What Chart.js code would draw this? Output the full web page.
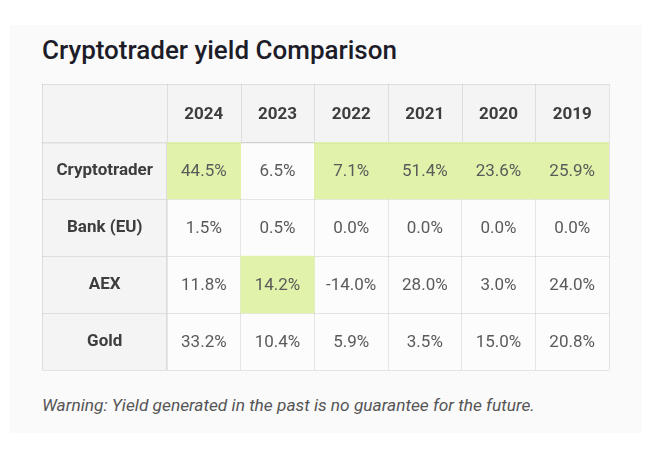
<!DOCTYPE html>
<html>
    <head>
        <title>Cryptotrader yield Comparison</title>
        <meta http-equiv="Content-Type" content="text/html; charset=UTF-8">
        <script src="https://cdn.jsdelivr.net/npm/chart.js"></script>
        <style>
            body { margin: 0; background: #ffffff; font-family: Roboto, sans-serif; }
            .card { position: absolute; left: 10px; top: 25px; width: 632px; height: 408px; background: #fafafa; }
            h1 { position: absolute; left: 42px; top: 35px; margin: 0; font-size: 26px; line-height: 30px;
                 font-weight: 500; color: #1d1d29; white-space: nowrap; }
            .tableau { position: absolute; left: 42px; top: 84px; width: 568px; height: 287px; }
            .warning { position: absolute; left: 42px; top: 395px; margin: 0; font-size: 17.3px; line-height: 20px;
                       font-style: italic; color: #555555; white-space: nowrap; }
        </style>
    </head>
    <body>

        <div class="card"></div>
        <h1>Cryptotrader yield Comparison</h1>
        <div class="tableau">
            <canvas id="tableRendement"></canvas>
        </div>
        <p class="warning">Warning: Yield generated in the past is no guarantee for the future.</p>

        <script>
            // colonnes et lignes du tableau
            const annees = ["2024", "2023", "2022", "2021", "2020", "2019"];
            const placements = ["Cryptotrader", "Bank (EU)", "AEX", "Gold"];

            // rendements en %, une liste par ligne
            const cryptotrader = [44.5, 6.5, 7.1, 51.4, 23.6, 25.9];
            const banqueEU = [1.5, 0.5, 0.0, 0.0, 0.0, 0.0];
            const aex = [11.8, 14.2, -14.0, 28.0, 3.0, 24.0];
            const or = [33.2, 10.4, 5.9, 3.5, 15.0, 20.8];

            const lignes = [cryptotrader, banqueEU, aex, or];

            const couleurLigne = 'rgba(0, 0, 0, 0.09)';
            const couleurEntete = '#f4f4f4';
            const couleurCellule = '#fcfcfc';
            const couleurMeilleur = '#e1f3aa';

            // cellule surlignée = meilleur rendement de chaque année
            const meilleurs = annees.map(function (annee, j) {
                let best = 0;
                lignes.forEach(function (ligne, i) {
                    if (ligne[j] > lignes[best][j]) best = i;
                });
                return {x: annee, y: [best, best + 1]};
            });

            const fondTableau = {
                id: 'fondTableau',
                beforeDraw: function (chart) {
                    const ctx = chart.ctx;
                    const area = chart.chartArea;
                    ctx.save();
                    ctx.fillStyle = couleurCellule;
                    ctx.fillRect(0, 0, area.right, area.bottom);
                    ctx.fillStyle = couleurEntete;
                    ctx.fillRect(0, 0, area.right, area.top);
                    ctx.fillRect(0, 0, area.left, area.bottom);
                    ctx.restore();
                },
                afterDraw: function (chart) {
                    const ctx = chart.ctx;
                    const area = chart.chartArea;
                    const xs = chart.scales.x;
                    const ys = chart.scales.y;
                    ctx.save();
                    ctx.strokeStyle = couleurLigne;
                    ctx.lineWidth = 1;
                    ctx.beginPath();
                    // lignes verticales dans l'entête
                    for (let j = 0; j <= annees.length; j++) {
                        const px = Math.round(xs.getPixelForValue(j - 0.5)) + 0.5;
                        ctx.moveTo(px, 0);
                        ctx.lineTo(px, area.top);
                    }
                    // lignes horizontales dans la première colonne
                    for (let i = 0; i <= placements.length; i++) {
                        const py = Math.round(ys.getPixelForValue(i - 0.5)) + 0.5;
                        ctx.moveTo(0, py);
                        ctx.lineTo(area.left, py);
                    }
                    ctx.moveTo(0, 0.5);
                    ctx.lineTo(area.right, 0.5);
                    ctx.moveTo(0.5, 0);
                    ctx.lineTo(0.5, area.bottom);
                    ctx.stroke();
                    // ombre sous l'entête
                    ctx.strokeStyle = 'rgba(0, 0, 0, 0.04)';
                    ctx.beginPath();
                    ctx.moveTo(0, Math.round(area.top) + 1.5);
                    ctx.lineTo(area.right, Math.round(area.top) + 1.5);
                    ctx.stroke();
                    ctx.restore();
                },
                afterDatasetsDraw: function (chart) {
                    const ctx = chart.ctx;
                    const xs = chart.scales.x;
                    const ys = chart.scales.y;
                    ctx.save();
                    ctx.font = '17px Roboto';
                    ctx.fillStyle = '#5a5a5a';
                    ctx.textAlign = 'center';
                    ctx.textBaseline = 'middle';
                    lignes.forEach(function (ligne, i) {
                        ligne.forEach(function (v, j) {
                            ctx.fillText(v.toFixed(1) + '%', xs.getPixelForValue(j), ys.getPixelForValue(i) + 1);
                        });
                    });
                    ctx.restore();
                }
            };

            const ctx = document.getElementById("tableRendement").getContext("2d");
            const chart = new Chart(ctx, {
                type: "bar",
                data: {
                    datasets: [
                        {
                            data: meilleurs,
                            backgroundColor: couleurMeilleur,
                            borderWidth: 0,
                            barPercentage: 1,
                            categoryPercentage: 1,
                            xAxisID: 'x',
                            yAxisID: 'yv'
                        }
                    ]
                },
                options: {
                    responsive: true,
                    maintainAspectRatio: false,
                    animation: false,
                    layout: {padding: {right: 1, bottom: 1}},
                    plugins: {
                        legend: {display: false},
                        tooltip: {enabled: false}
                    },
                    scales: {
                        x: {
                            type: 'category',
                            labels: annees,
                            position: 'top',
                            offset: true,
                            z: 1,
                            grid: {offset: true, drawTicks: false, color: couleurLigne},
                            border: {color: couleurLigne},
                            ticks: {
                                padding: 17,
                                color: '#3d3d3d',
                                font: {family: 'Roboto', size: 17, weight: 'bold'}
                            },
                            afterFit: function (scale) {
                                scale.height = 58;
                                scale.paddingLeft = 0;
                                scale.paddingRight = 0;
                            }
                        },
                        y: {
                            type: 'category',
                            labels: placements,
                            position: 'left',
                            offset: true,
                            z: 1,
                            grid: {offset: true, drawTicks: false, color: couleurLigne},
                            border: {color: couleurLigne},
                            ticks: {
                                padding: 14,
                                crossAlign: 'center',
                                color: '#3d3d3d',
                                font: {family: 'Roboto', size: 17, weight: 'bold'}
                            },
                            afterFit: function (scale) {
                                scale.width = 125;
                                scale.paddingTop = 0;
                                scale.paddingBottom = 0;
                            }
                        },
                        yv: {
                            type: 'linear',
                            axis: 'y',
                            display: false,
                            min: 0,
                            max: placements.length,
                            reverse: true
                        }
                    }
                },
                plugins: [fondTableau]
            });
        </script>
    </body>
</html>
